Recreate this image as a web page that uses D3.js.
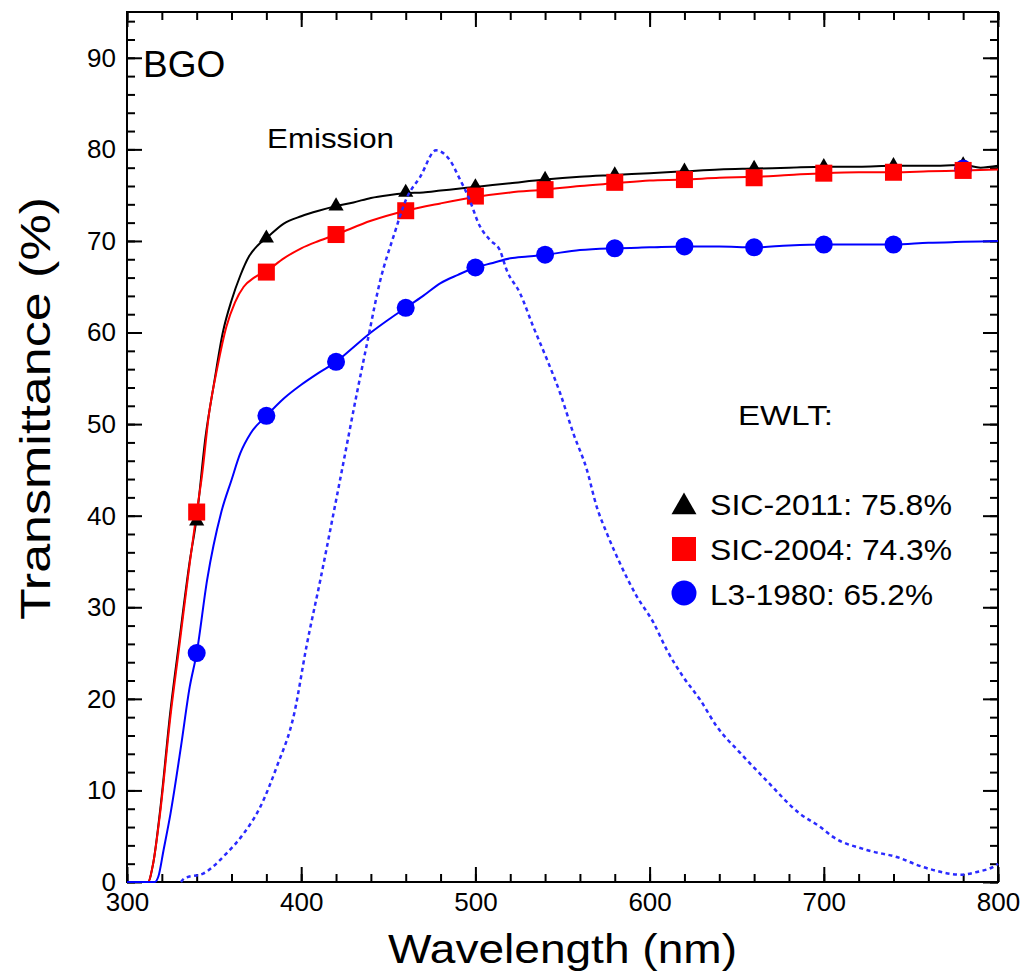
<!DOCTYPE html>
<html>
<head>
<meta charset="utf-8">
<script src="https://cdn.jsdelivr.net/npm/d3@7"></script>
<style>
  body { margin: 0; background: #fff; }
  text { font-family: "Liberation Sans", Arial, sans-serif; fill: #000; }
</style>
</head>
<body>
<svg id="chart"></svg>
<script>
// measured transmittance curves [wavelength nm, transmittance %]
const sic2011Curve = [
  [300, 0], [312, 0], [315, 2], [319, 7.8], [325, 18.8], [330, 26.3], [336, 35], [340, 39.8],
  [345, 48.5], [350, 54.5], [355, 60], [360, 63.5], [365, 66.2], [370, 68.3], [375, 69.5],
  [380, 70.3], [390, 71.9], [400, 72.7], [410, 73.3], [420, 73.8], [430, 74.2], [440, 74.7],
  [450, 75.0], [460, 75.2], [470, 75.3], [480, 75.5], [490, 75.7], [500, 75.9], [520, 76.3],
  [540, 76.7], [560, 77.0], [580, 77.2], [600, 77.4], [620, 77.6], [640, 77.8], [660, 77.9],
  [680, 78.0], [700, 78.1], [720, 78.1], [740, 78.2], [760, 78.2], [780, 78.3], [790, 78.0], [800, 78.2]
];
const sic2004Curve = [
  [300, 0], [312, 0], [315, 2], [319, 7.5], [325, 18.2], [330, 25.7], [336, 34.8], [340, 40.4],
  [343, 44.3], [347, 51], [352, 56.3], [357, 60.6], [362, 63.3], [367, 65], [373, 66], [380, 66.7],
  [390, 68.1], [400, 69.2], [410, 70.0], [420, 70.7], [440, 72.2], [460, 73.3], [480, 74.1],
  [500, 74.8], [520, 75.3], [540, 75.6], [560, 76.0], [580, 76.3], [600, 76.6], [620, 76.7],
  [640, 76.9], [660, 77.0], [680, 77.2], [700, 77.4], [720, 77.5], [740, 77.5], [760, 77.6],
  [780, 77.7], [800, 77.8]
];
const l31980Curve = [
  [300, 0], [316, 0], [318, 0.6], [321, 3.5], [325, 7.5], [331, 14.8], [336, 21.3], [340, 25],
  [346, 33], [354, 40.3], [360, 43.9], [365, 46.8], [371, 49.0], [380, 50.9], [390, 52.8],
  [400, 54.3], [410, 55.6], [420, 56.8], [430, 58.4], [440, 60], [450, 61.4], [460, 62.7],
  [470, 64], [480, 65.4], [490, 66.3], [500, 67.1], [510, 67.6], [520, 68.1], [530, 68.3],
  [540, 68.5], [560, 69.0], [580, 69.2], [600, 69.3], [620, 69.4], [640, 69.4], [660, 69.3],
  [680, 69.5], [700, 69.6], [720, 69.6], [740, 69.6], [760, 69.8], [780, 69.9], [800, 70.0]
];
// BGO emission spectrum (arbitrary units, scaled to the plot)
const emissionCurve = [
  [331, 0], [333, 0.4], [344, 0.95], [357, 3.1], [367, 5.3], [376.5, 8.2], [386, 12.6],
  [396, 18.4], [403, 25.7], [411, 33], [418.6, 40.3], [422.4, 44], [432, 53.4], [437.8, 58.8],
  [445.4, 65.7], [453, 70.5], [460.6, 74.7], [468.3, 77.0], [477.4, 79.9], [485.4, 78.8],
  [491.2, 76.7], [496, 74.8], [502.6, 71.6], [508.4, 70.1], [514, 69.0], [518, 66.8],
  [525.6, 64.3], [533.3, 60.6], [541, 57.1], [548.6, 53.4], [556.2, 49.0], [564, 45.0],
  [569.6, 41.0], [575.4, 38.1], [583, 34.8], [592.6, 31.2], [602, 28.4], [610, 25.3],
  [619.3, 22.4], [629, 19.9], [638.5, 17.0], [652, 14.1], [667, 11.1], [686, 7.5], [698, 6.0],
  [705.5, 4.9], [724.6, 3.5], [744, 2.6], [753, 1.9], [763, 1.3], [778, 0.8], [788, 1.1],
  [799.3, 1.9], [800, 2.0]
];

// marker points
const sic2011Markers = [
  [340, 39.4], [380, 70.3], [420, 73.8], [460, 75.3], [500, 75.9], [540, 76.7],
  [580, 77.2], [620, 77.6], [660, 77.9], [700, 78.1], [740, 78.2], [780, 78.3]
];
const sic2004Markers = [
  [340, 40.4], [380, 66.6], [420, 70.7], [460, 73.3], [500, 74.9], [540, 75.6],
  [580, 76.4], [620, 76.7], [660, 76.9], [700, 77.4], [740, 77.5], [780, 77.7]
];
const l31980Markers = [
  [340, 25.0], [380, 50.9], [420, 56.8], [460, 62.7], [500, 67.1], [540, 68.5],
  [580, 69.2], [620, 69.4], [660, 69.3], [700, 69.6], [740, 69.6], [780, 77.9]
];

const legendLabels = ["SIC-2011: 75.8%", "SIC-2004: 74.3%", "L3-1980: 65.2%"];
const xMajorTicks = [300, 400, 500, 600, 700, 800];
const yMajorTicks = [0, 10, 20, 30, 40, 50, 60, 70, 80, 90];

const width = 1025, height = 974;
const svg = d3.select("#chart").attr("width", width).attr("height", height);

const x = d3.scaleLinear().domain([300, 800]).range([127, 998]);
const y = d3.scaleLinear().domain([0, 95]).range([882, 12]);

// axes, ticks point inwards on all four sides
function addAxis(axis, tr, values, size, labels) {
  const g = svg.append("g")
    .attr("transform", tr)
    .call(axis.tickValues(values).tickSize(size).tickPadding(11)
      .tickFormat(labels ? d3.format("d") : ""));
  g.select(".domain").remove();
  g.selectAll(".tick line").attr("stroke", "#000").attr("stroke-width", 2);
  g.selectAll(".tick text").style("font-size", "26px").attr("fill", "#000");
  return g;
}
const xMinor = d3.range(300, 801, 20);
const yMinor = d3.range(0, 95, 2);

addAxis(d3.axisBottom(x), "translate(0,882)", xMinor, -8, false);
addAxis(d3.axisBottom(x), "translate(0,882)", xMajorTicks, -15, true);
addAxis(d3.axisTop(x), "translate(0,12)", xMinor, -8, false);
addAxis(d3.axisTop(x), "translate(0,12)", xMajorTicks, -15, false);
addAxis(d3.axisLeft(y), "translate(127,0)", yMinor, -8, false);
addAxis(d3.axisLeft(y), "translate(127,0)", yMajorTicks, -15, true);
addAxis(d3.axisRight(y), "translate(998,0)", yMinor, -8, false);
addAxis(d3.axisRight(y), "translate(998,0)", yMajorTicks, -15, false);

svg.append("rect")
  .attr("x", x(300)).attr("y", y(95))
  .attr("width", x(800) - x(300)).attr("height", y(0) - y(95))
  .attr("fill", "none").attr("stroke", "#000").attr("stroke-width", 2);

// curves
const line = d3.line()
  .x(d => x(d[0]))
  .y(d => y(d[1]))
  .curve(d3.curveMonotoneX);

const plot = svg.append("g");
plot.append("path").datum(sic2011Curve).attr("d", line)
  .attr("fill", "none").attr("stroke", "#000").attr("stroke-width", 2);
plot.append("path").datum(sic2004Curve).attr("d", line)
  .attr("fill", "none").attr("stroke", "#ff0000").attr("stroke-width", 2);
plot.append("path").datum(l31980Curve).attr("d", line)
  .attr("fill", "none").attr("stroke", "#0000ff").attr("stroke-width", 2);

// markers
const sym = d3.symbol();
plot.selectAll(".tri").data(sic2011Markers).join("path")
  .attr("class", "tri")
  .attr("transform", d => `translate(${x(d[0])},${y(d[1])})`)
  .attr("d", sym.type(d3.symbolTriangle).size(100)())
  .attr("fill", "#000");
plot.selectAll(".dot").data(l31980Markers).join("circle")
  .attr("class", "dot")
  .attr("cx", d => x(d[0])).attr("cy", d => y(d[1]))
  .attr("r", 9)
  .attr("fill", "#0000ff");
plot.selectAll(".sq").data(sic2004Markers).join("rect")
  .attr("class", "sq")
  .attr("x", d => x(d[0]) - 8.5).attr("y", d => y(d[1]) - 8.5)
  .attr("width", 17).attr("height", 17)
  .attr("fill", "#ff0000");

// emission, dotted
plot.append("path").datum(emissionCurve).attr("d", line)
  .attr("fill", "none").attr("stroke", "#2a2aff").attr("stroke-width", 2.5)
  .attr("stroke-dasharray", "4,3.5");

// annotations
svg.append("text").attr("x", 143).attr("y", 77)
  .style("font-size", "37px").text("BGO");
svg.append("text").attr("x", 267).attr("y", 148)
  .style("font-size", "28px").attr("textLength", 127).attr("lengthAdjust", "spacingAndGlyphs")
  .text("Emission");
svg.append("text").attr("x", 738).attr("y", 425)
  .style("font-size", "28px").attr("textLength", 95).attr("lengthAdjust", "spacingAndGlyphs")
  .text("EWLT:");

// legend
const legend = svg.append("g");
const legendY = [507, 549, 593];
const legendLen = [242, 242, 223];
legend.append("path")
  .attr("transform", `translate(684,${legendY[0]})`)
  .attr("d", d3.symbol().type(d3.symbolTriangle).size(270)())
  .attr("fill", "#000");
legend.append("rect")
  .attr("x", 672).attr("y", legendY[1] - 12).attr("width", 24).attr("height", 24)
  .attr("fill", "#ff0000");
legend.append("circle")
  .attr("cx", 684).attr("cy", legendY[2]).attr("r", 12.5)
  .attr("fill", "#0000ff");
legend.selectAll(".lt").data(legendLabels).join("text")
  .attr("class", "lt")
  .attr("x", 710)
  .attr("y", (d, i) => 515 + i * 45)
  .attr("textLength", (d, i) => legendLen[i])
  .attr("lengthAdjust", "spacingAndGlyphs")
  .style("font-size", "30px")
  .text(d => d);

// axis titles
svg.append("text")
  .attr("x", 388).attr("y", 963)
  .style("font-size", "40px")
  .attr("textLength", 349).attr("lengthAdjust", "spacingAndGlyphs")
  .text("Wavelength (nm)");
svg.append("text")
  .attr("transform", "translate(50,620) rotate(-90)")
  .style("font-size", "42px")
  .attr("textLength", 423).attr("lengthAdjust", "spacingAndGlyphs")
  .text("Transmittance (%)");
</script>
</body>
</html>
